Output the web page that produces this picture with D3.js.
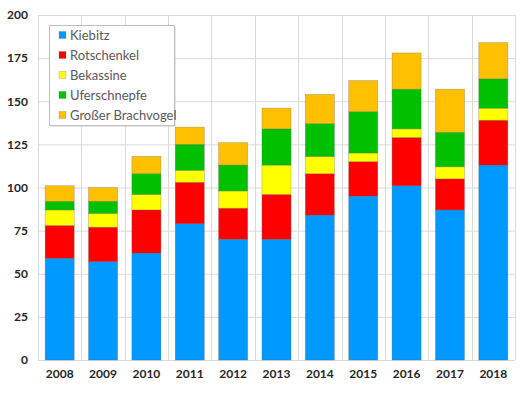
<!DOCTYPE html>
<html>
<head>
<meta charset="utf-8">
<script src="https://cdn.jsdelivr.net/npm/d3@7"></script>
<style>
  body { margin: 0; background: #fff; }
  svg { display: block; font-family: "Lato", "Open Sans", sans-serif; }
</style>
</head>
<body>
<svg id="chart" width="531" height="398"></svg>
<script>
const years = ["2008", "2009", "2010", "2011", "2012", "2013", "2014", "2015", "2016", "2017", "2018"];
const kiebitz      = [59, 57, 62, 79, 70, 70, 84, 95, 101, 87, 113];
const rotschenkel  = [19, 20, 25, 24, 18, 26, 24, 20, 28, 18, 26];
const bekassine    = [9, 8, 9, 7, 10, 17, 10, 5, 5, 7, 7];
const uferschnepfe = [5, 7, 12, 15, 15, 21, 19, 24, 23, 20, 17];
const brachvogel   = [9, 8, 10, 10, 13, 12, 17, 18, 21, 25, 21];
const yTicks = [0, 25, 50, 75, 100, 125, 150, 175, 200];

const seriesDef = [
    { key: "Kiebitz", values: kiebitz, color: "#0099ff" },
    { key: "Rotschenkel", values: rotschenkel, color: "#ff0000" },
    { key: "Bekassine", values: bekassine, color: "#ffff00" },
    { key: "Uferschnepfe", values: uferschnepfe, color: "#00c000" },
    { key: "Großer Brachvogel", values: brachvogel, color: "#ffc000" },
];

const margin = { top: 15, right: 16, bottom: 38, left: 38 };
const W = 531, H = 398;
const w = W - margin.left - margin.right;
const h = H - margin.top - margin.bottom;

const svg = d3.select("#chart");
const g = svg.append("g").attr("transform", `translate(${margin.left},${margin.top})`);

// rows for d3.stack
const table = years.map((yr, i) => {
    const row = { year: yr };
    seriesDef.forEach(s => row[s.key] = s.values[i]);
    return row;
});
const stacked = d3.stack().keys(seriesDef.map(s => s.key))(table);

const x = d3.scaleBand().domain(years).range([0, w]).paddingInner(0.33).paddingOuter(0.165);
const y = d3.scaleLinear().domain([0, 200]).range([h, 0]);
const step = x.step();

// grid: horizontal lines
g.append("g").selectAll("line").data(yTicks).join("line")
    .attr("x1", 0).attr("x2", w)
    .attr("y1", d => y(d) + 0.5).attr("y2", d => y(d) + 0.5)
    .attr("stroke", "#d9d9d9").attr("stroke-width", 1);

// grid: vertical lines at category boundaries
const bounds = years.map(yr => x(yr) - x.paddingOuter() * step).concat([w]);
g.append("g").selectAll("line").data(bounds).join("line")
    .attr("x1", d => Math.round(d) + 0.5).attr("x2", d => Math.round(d) + 0.5)
    .attr("y1", 0).attr("y2", h)
    .attr("stroke", "#d9d9d9").attr("stroke-width", 1);

// bars
stacked.forEach((layer, li) => {
    g.append("g").selectAll("rect").data(layer).join("rect")
        .attr("x", d => x(d.data.year))
        .attr("width", x.bandwidth())
        .attr("y", d => y(d[1]))
        .attr("height", d => y(d[0]) - y(d[1]))
        .attr("fill", seriesDef[li].color)
        .attr("stroke", "rgba(90,90,90,0.45)")
        .attr("stroke-width", 0.6);
});

// y axis labels
const yAxis = g.append("g")
    .call(d3.axisLeft(y).tickValues(yTicks).tickSize(0).tickPadding(10));
yAxis.select(".domain").remove();
yAxis.selectAll("text")
    .style("font-size", "12px").style("font-weight", "700")
    .attr("fill", "#262626")
    .style("font-family", "Lato, 'Open Sans', sans-serif");

// x axis labels
const xAxis = g.append("g").attr("transform", `translate(0,${h})`)
    .call(d3.axisBottom(x).tickSize(0).tickPadding(9));
xAxis.select(".domain").remove();
xAxis.selectAll("text")
    .style("font-size", "12px").style("font-weight", "700")
    .attr("fill", "#262626")
    .style("font-family", "Lato, 'Open Sans', sans-serif");

// legend
const lg = svg.append("g").attr("transform", "translate(49,25)");
lg.append("rect").attr("x", 1.5).attr("y", 1.5).attr("width", 125).attr("height", 100)
    .attr("fill", "#cfcfcf");
lg.append("rect").attr("x", 0.5).attr("y", 0.5).attr("width", 125).attr("height", 100)
    .attr("fill", "#fff").attr("stroke", "#bfbfbf");
seriesDef.forEach((s, i) => {
    const row = lg.append("g").attr("transform", `translate(10,${10 + i * 20})`);
    row.append("rect").attr("x", 0).attr("y", -3.5).attr("width", 7).attr("height", 7)
        .attr("fill", s.color).attr("stroke", "rgba(90,90,90,0.45)").attr("stroke-width", 0.5);
    row.append("text").attr("x", 11).attr("y", 0).attr("dy", "0.35em")
        .style("font-size", "13px").attr("fill", "#595959")
        .text(s.key);
});
</script>
</body>
</html>
